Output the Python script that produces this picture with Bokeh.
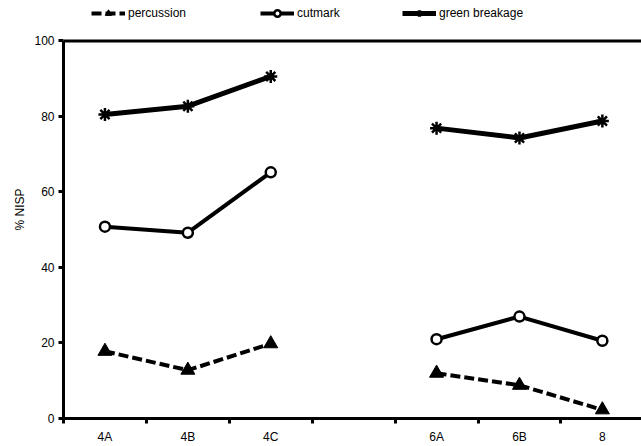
import math
from bokeh.plotting import figure
from bokeh.models import (Range1d, FixedTicker, Legend, LegendItem, Span)
from bokeh.embed import file_html
from bokeh.resources import INLINE

NaN = math.nan
categories = ["4A", "4B", "4C", "", "6A", "6B", "8"]
percussion = [17.8, 12.8, 19.8, NaN, 12.0, 8.8, 2.3]
cutmark = [50.8, 49.2, 65.2, NaN, 21.0, 27.0, 20.6]
green_breakage = [80.5, 82.7, 90.6, NaN, 76.9, 74.3, 78.8]
y_ticks = [0, 20, 40, 60, 80, 100]

FONT = "Liberation Sans"

xs = [i + 0.5 for i in range(len(categories))]

p = figure(width=641, height=446, output_backend="svg", toolbar_location=None,
           x_range=Range1d(0, 6.972), y_range=Range1d(0, 110.7),
           min_border_left=63, min_border_right=0, min_border_top=0, min_border_bottom=28)
p.outline_line_color = None
p.grid.visible = False
p.background_fill_color = "white"
p.border_fill_color = "white"

r_pc = p.line(xs, percussion, line_color="black", line_width=4, line_dash="10 4")
m_pc = p.scatter(xs, percussion, marker="triangle", size=14, fill_color="black", line_color="black")
r_cm = p.line(xs, cutmark, line_color="black", line_width=4)
m_cm = p.scatter(xs, cutmark, marker="circle", size=10, fill_color="white", line_color="black", line_width=2.5)
r_gb = p.line(xs, green_breakage, line_color="black", line_width=5)
m_gb = p.scatter(xs, green_breakage, marker="asterisk", size=13, line_color="black", line_width=2.5)

top = Span(location=y_ticks[-1], dimension="width", line_color="black", line_width=3)
p.add_layout(top)

# x axis
xa = p.xaxis[0]
xa.ticker = FixedTicker(ticks=xs, minor_ticks=list(range(len(categories) + 1)))
xa.major_label_overrides = {x: c for x, c in zip(xs, categories)}
xa.major_tick_line_color = None
xa.major_tick_out = 5
xa.major_tick_in = 0
xa.minor_tick_line_color = "black"
xa.minor_tick_line_width = 3
xa.minor_tick_out = 5
xa.minor_tick_in = 0
xa.axis_line_width = 3
xa.axis_line_color = "black"
xa.major_label_text_font = FONT
xa.major_label_text_font_size = "12px"
xa.major_label_text_color = "black"
xa.major_label_standoff = 6

ya = p.yaxis[0]
ya.ticker = FixedTicker(ticks=y_ticks)
ya.bounds = (0, 100)
ya.minor_tick_line_color = None
ya.major_tick_line_width = 3
ya.major_tick_out = 5
ya.major_tick_in = 0
ya.axis_line_width = 3
ya.axis_line_color = "black"
ya.major_label_text_font = FONT
ya.major_label_text_font_size = "12px"
ya.major_label_text_color = "black"
ya.major_label_standoff = 4
ya.axis_label = "% NISP"
ya.axis_label_text_font = FONT
ya.axis_label_text_font_size = "12px"
ya.axis_label_text_font_style = "normal"
ya.axis_label_text_color = "black"
ya.axis_label_standoff = 4

legend_specs = [("percussion", [r_pc, m_pc], 28),
                ("cutmark", [r_cm, m_cm], 197),
                ("green breakage", [r_gb, m_gb], 339)]
for label, rends, lx in legend_specs:
    lg = Legend(items=[LegendItem(label=label, renderers=rends)],
                orientation="horizontal", location=(lx, 397))
    lg.label_text_font = FONT
    lg.label_text_font_size = "12px"
    lg.label_text_color = "black"
    lg.glyph_width = 34
    lg.glyph_height = 16
    lg.label_standoff = 3
    lg.padding = 0
    lg.margin = 0
    lg.border_line_color = None
    lg.background_fill_alpha = 0
    p.add_layout(lg)

open("out.html", "w").write(file_html(p, INLINE))
